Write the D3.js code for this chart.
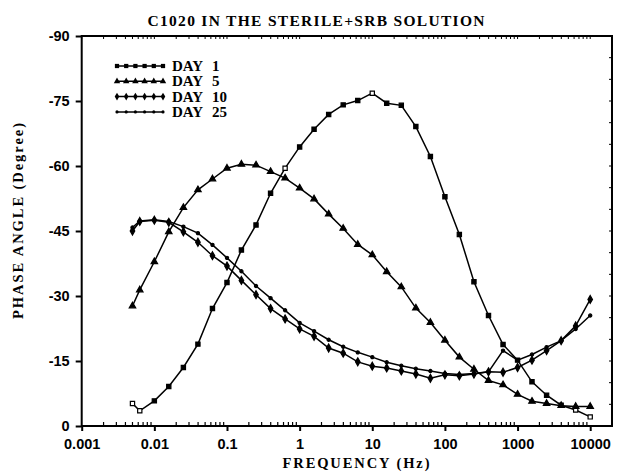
<!DOCTYPE html>
<html>
<head>
<meta charset="utf-8">
<script src="https://d3js.org/d3.v7.min.js"></script>
<style>
  body { margin: 0; background: #fff; }
  svg { display: block; }
</style>
</head>
<body>
<div id="chart"></div>
<script>
`use strict`;

// frequencies (Hz), 5 points per decade after the first two
const freq = [0.005, 0.0063, 0.01, 0.0158, 0.0251, 0.0398, 0.0631, 0.1, 0.158, 0.251, 0.398, 0.631,
  1, 1.58, 2.51, 3.98, 6.31, 10, 15.8, 25.1, 39.8, 63.1, 100, 158, 251, 398, 631,
  1000, 1580, 2510, 3980, 6310, 10000];

const day1 = [-5.2, -3.5, -5.8, -9.1, -13.5, -18.9, -27.1, -33.1, -40.6, -46.4, -53.7, -59.5,
  -64.4, -68.5, -71.9, -74.1, -75.1, -76.8, -74.5, -74.0, -69.1, -62.2, -52.9, -44.2, -33.3, -25.5, -18.8,
  -15.2, -10.2, -7.1, -4.8, -3.7, -2.1];

const day5 = [-27.7, -31.4, -37.9, -44.8, -50.4, -54.5, -57.0, -59.5, -60.4, -60.2, -58.7, -57.2,
  -54.9, -52.4, -48.9, -45.6, -41.9, -39.5, -35.6, -32.1, -27.2, -23.9, -19.8, -15.9, -13.1, -10.5, -9.5,
  -7.3, -5.7, -5.2, -4.7, -4.5, -4.5];

const day10 = [-45.0, -47.2, -47.5, -47.0, -44.8, -42.4, -39.3, -36.9, -33.6, -30.3, -27.1, -24.7,
  -22.4, -20.7, -18.0, -16.8, -14.8, -13.8, -13.4, -12.7, -12.0, -11.0, -11.8, -11.6, -12.0, -12.5, -12.4,
  -13.5, -15.2, -17.4, -19.7, -23.1, -29.2];

const day25 = [-45.8, -47.3, -47.6, -47.2, -46.0, -44.5, -41.8, -38.8, -35.7, -32.3, -29.5, -26.7,
  -23.8, -21.9, -19.9, -18.3, -17.0, -15.9, -14.7, -13.9, -13.2, -12.7, -12.1, -11.9, -12.1, -12.5, -17.4,
  -15.2, -16.5, -18.2, -19.7, -22.4, -25.5];

// day 1 points drawn as open squares
const day1Open = [0, 1, 11, 17, 31, 32];

const xTicks = [0.001, 0.01, 0.1, 1, 10, 100, 1000, 10000];
const yTicks = [0, -15, -30, -45, -60, -75, -90];

const legendDays = [`1`, `5`, `10`, `25`];

(function () {

  const W = 620, H = 474;
  const left = 81.7, right = 612, top = 36, bottom = 426;

  let svg = d3.select(`#chart`).append(`svg`)
    .attr(`width`, W)
    .attr(`height`, H);

  let x = d3.scaleLog()
    .domain([0.001, Math.pow(10, 4.3)])
    .range([left, right]);

  let y = d3.scaleLinear()
    .domain([0, -90])
    .range([bottom, top]);

  let labelFont = `"Liberation Serif", "DejaVu Serif", serif`;
  let tickFont = `"Liberation Sans", Arial, sans-serif`;

  // title
  svg.append(`text`)
    .attr(`x`, 316)
    .attr(`y`, 26)
    .attr(`text-anchor`, `middle`)
    .attr(`textLength`, 337)
    .attr(`lengthAdjust`, `spacing`)
    .style(`font-family`, labelFont)
    .style(`font-weight`, `bold`)
    .style(`font-size`, `15.5px`)
    .text(`C1020 IN THE STERILE+SRB SOLUTION`);

  // frame
  svg.append(`rect`)
    .attr(`x`, left)
    .attr(`y`, top)
    .attr(`width`, right - left)
    .attr(`height`, bottom - top)
    .attr(`fill`, `none`)
    .attr(`stroke`, `#000`)
    .style(`stroke-width`, 2);

  // x axis: decade ticks out, minor ticks in
  let xAxis = svg.append(`g`)
    .attr(`transform`, `translate(0,${bottom})`)
    .call(d3.axisBottom(x).tickValues(xTicks).tickSize(5).tickSizeOuter(0)
      .tickFormat(d => {
        if (d >= 1) return d3.format(`d`)(d);
        return d3.format(`.${Math.round(-Math.log10(d))}f`)(d);
      }));

  xAxis.select(`.domain`).remove();
  xAxis.selectAll(`line`).style(`stroke-width`, 2);
  xAxis.selectAll(`text`)
    .attr(`dy`, `1.05em`)
    .style(`font-family`, tickFont)
    .style(`font-weight`, `bold`)
    .style(`font-size`, `14.5px`);

  let minor = [];
  for (let e = -3; e <= 4; e++) {
    for (let m = 2; m <= 9; m++) {
      let v = m * Math.pow(10, e);
      if (x(v) < right - 1) minor.push(v);
    }
  }

  svg.append(`g`).selectAll(`line`).data(minor)
    .enter()
    .append(`line`)
    .attr(`x1`, d => x(d))
    .attr(`x2`, d => x(d))
    .attr(`y1`, bottom)
    .attr(`y2`, bottom - 4)
    .attr(`stroke`, `#000`)
    .style(`stroke-width`, 1.2);

  svg.append(`g`).selectAll(`line`).data(minor.concat(xTicks))
    .enter()
    .append(`line`)
    .attr(`x1`, d => x(d))
    .attr(`x2`, d => x(d))
    .attr(`y1`, top)
    .attr(`y2`, top + 3)
    .attr(`stroke`, `#000`)
    .style(`stroke-width`, 1);

  // y axis
  let yAxis = svg.append(`g`)
    .attr(`transform`, `translate(${left},0)`)
    .call(d3.axisLeft(y).tickValues(yTicks).tickSize(6).tickSizeOuter(0)
      .tickFormat(d => d === 0 ? `0` : `-` + Math.abs(d)));

  yAxis.select(`.domain`).remove();
  yAxis.selectAll(`line`).style(`stroke-width`, 2);
  yAxis.selectAll(`text`)
    .attr(`x`, -12)
    .style(`font-family`, tickFont)
    .style(`font-weight`, `bold`)
    .style(`font-size`, `14.5px`);

  svg.append(`g`).selectAll(`line`).data(d3.range(-5, -90, -5))
    .enter()
    .append(`line`)
    .attr(`x1`, right)
    .attr(`x2`, right - 3)
    .attr(`y1`, d => y(d))
    .attr(`y2`, d => y(d))
    .attr(`stroke`, `#000`)
    .style(`stroke-width`, 1);

  // axis titles
  svg.append(`text`)
    .attr(`x`, 356)
    .attr(`y`, 468)
    .attr(`text-anchor`, `middle`)
    .attr(`textLength`, 147)
    .attr(`lengthAdjust`, `spacing`)
    .style(`font-family`, labelFont)
    .style(`font-weight`, `bold`)
    .style(`font-size`, `14.5px`)
    .text(`FREQUENCY (Hz)`);

  svg.append(`text`)
    .attr(`transform`, `translate(23,221) rotate(-90)`)
    .attr(`text-anchor`, `middle`)
    .attr(`textLength`, 196)
    .attr(`lengthAdjust`, `spacing`)
    .style(`font-family`, labelFont)
    .style(`font-weight`, `bold`)
    .style(`font-size`, `14.5px`)
    .text(`PHASE ANGLE (Degree)`);

  // series
  let series = [
    {vals: day1, sym: d3.symbolSquare, size: 18},
    {vals: day5, sym: d3.symbolTriangle, size: 18},
    {vals: day10, sym: d3.symbolDiamond, size: 18},
    {vals: day25, sym: d3.symbolCircle, size: 8}
  ];

  let line = d3.line()
    .x(d => x(d[0]))
    .y(d => y(d[1]));

  series.forEach((s, k) => {

    let pts = freq.map((f, i) => [f, s.vals[i], i]);

    let g = svg.append(`g`).attr(`class`, `series`);

    g.append(`path`)
      .datum(pts)
      .attr(`d`, line)
      .attr(`fill`, `none`)
      .attr(`stroke`, `#000`)
      .style(`stroke-width`, 1.5);

    g.selectAll(`path.pt`).data(pts)
      .enter()
      .append(`path`)
      .attr(`class`, `pt`)
      .attr(`transform`, d => `translate(${x(d[0])},${y(d[1])})`)
      .attr(`d`, d3.symbol().type(s.sym).size(s.size))
      .attr(`fill`, d => (k === 0 && day1Open.indexOf(d[2]) > -1) ? `#fff` : `#000`)
      .attr(`stroke`, `#000`)
      .style(`stroke-width`, 1.2);
  });

  // legend
  let lg = svg.append(`g`).attr(`class`, `legend`);

  legendDays.forEach((day, k) => {

    let ly = 66 + k * 15.3;
    let s = series[k];

    lg.append(`line`)
      .attr(`x1`, 116)
      .attr(`x2`, 163)
      .attr(`y1`, ly)
      .attr(`y2`, ly)
      .attr(`stroke`, `#000`)
      .style(`stroke-width`, 1.5);

    lg.selectAll(`path.m${k}`).data(d3.range(6))
      .enter()
      .append(`path`)
      .attr(`class`, `m${k}`)
      .attr(`transform`, i => `translate(${117 + i * 9.2},${ly})`)
      .attr(`d`, d3.symbol().type(s.sym).size(s.size))
      .attr(`fill`, `#000`);

    lg.append(`text`)
      .attr(`x`, 172)
      .attr(`y`, ly + 5)
      .style(`font-family`, labelFont)
      .style(`font-weight`, `bold`)
      .style(`font-size`, `15px`)
      .text(`DAY`);

    lg.append(`text`)
      .attr(`x`, 212)
      .attr(`y`, ly + 5)
      .style(`font-family`, labelFont)
      .style(`font-weight`, `bold`)
      .style(`font-size`, `15px`)
      .text(day);
  });

})();
</script>
</body>
</html>
